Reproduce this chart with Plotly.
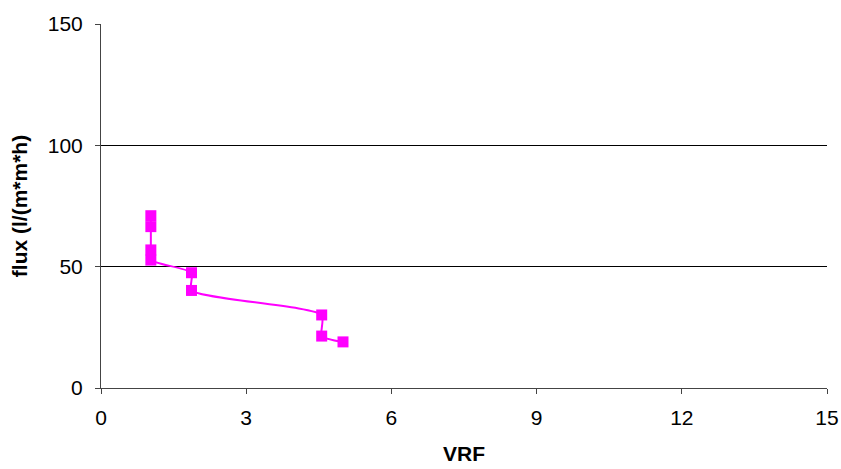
import plotly.graph_objects as go

# VRF vs flux
vrf = [1.03, 1.03, 1.03, 1.03, 1.87, 1.87, 4.56, 4.56, 5.0]
flux = [71.0, 66.5, 56.9, 52.7, 47.5, 40.2, 30.1, 21.4, 19.0]

x_ticks = [0, 3, 6, 9, 12, 15]
y_ticks = [0, 50, 100, 150]

MAGENTA = "#FF00FF"

fig = go.Figure()
fig.add_trace(go.Scatter(
    x=vrf, y=flux, mode="lines+markers",
    line=dict(color=MAGENTA, width=2, shape="spline", smoothing=0.6),
    marker=dict(symbol="square", size=11, color=MAGENTA),
    showlegend=False,
))

axis_font = dict(family="Liberation Sans, Arial, sans-serif", size=21, color="black")
title_font = dict(family="Liberation Sans, Arial, sans-serif", size=21, color="black")

fig.update_xaxes(
    range=[0, 15], tickvals=x_ticks, showgrid=False, zeroline=False,
    showline=True, linecolor="#444", linewidth=1, automargin=False,
    ticks="outside", ticklen=5, tickcolor="#444", tickfont=axis_font,
    ticklabelstandoff=6,
    title=dict(text="<b>VRF</b>", font=title_font, standoff=18),
)
fig.update_yaxes(
    range=[0, 150], tickvals=y_ticks, showgrid=True, gridcolor="black", gridwidth=1,
    zeroline=False, showline=True, linecolor="#444", linewidth=1, automargin=False,
    ticks="outside", ticklen=5, tickcolor="#444", tickfont=axis_font,
    ticklabelstandoff=8,
    title=dict(text="<b>flux (l/(m*m*h)</b>", font=title_font, standoff=14),
)

fig.update_layout(
    width=841, height=469,
    margin=dict(l=101, r=14, t=24, b=81, autoexpand=False),
    plot_bgcolor="white", paper_bgcolor="white",
    font=axis_font,
)

# drop the page's default body margin so the whole figure fits the window
fig.write_html("out.html", config={"displayModeBar": False},
               post_script="document.body.style.margin='0';")
